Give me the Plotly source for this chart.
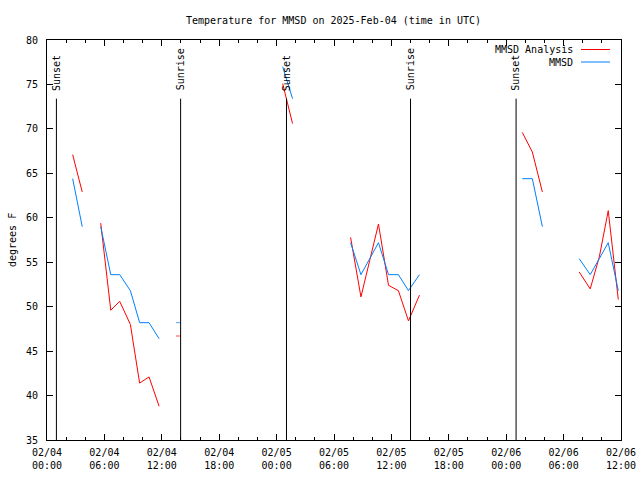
import plotly.graph_objects as go

# ---- data -------------------------------------------------------------
times = [
    "2025-02-04 02:41", "2025-02-04 03:41", "2025-02-04 04:40",
    "2025-02-04 05:37", "2025-02-04 06:40", "2025-02-04 07:36", "2025-02-04 08:43",
    "2025-02-04 09:41", "2025-02-04 10:40", "2025-02-04 11:43", "2025-02-04 12:40",
    "2025-02-04 13:42", "2025-02-04 20:00",
    "2025-02-05 00:38", "2025-02-05 01:40", "2025-02-05 04:00",
    "2025-02-05 07:44", "2025-02-05 08:49", "2025-02-05 09:44", "2025-02-05 10:39",
    "2025-02-05 11:42", "2025-02-05 12:44", "2025-02-05 13:47", "2025-02-05 14:56",
    "2025-02-05 20:00",
    "2025-02-06 01:41", "2025-02-06 02:44", "2025-02-06 03:47", "2025-02-06 05:00",
    "2025-02-06 07:38", "2025-02-06 08:47", "2025-02-06 09:44", "2025-02-06 10:40",
    "2025-02-06 11:43",
]
analysis = [
    67.1, 62.9, None,
    59.4, 49.6, 50.6, 48.0, 41.4, 42.1, 38.8, None,
    46.7, None,
    75.1, 70.6, None,
    57.8, 51.1, 55.2, 59.3, 52.4, 51.8, 48.4, 51.3, None,
    69.6, 67.4, 62.9, None,
    53.9, 52.0, 55.6, 60.8, 50.8,
]
observed = [
    64.4, 59.0, None,
    59.0, 53.6, 53.6, 51.8, 48.2, 48.2, 46.4, None,
    48.2, None,
    77.0, 73.4, None,
    57.2, 53.6, 55.4, 57.2, 53.6, 53.6, 51.8, 53.6, None,
    64.4, 64.4, 59.0, None,
    55.4, 53.6, 55.4, 57.2, 51.8,
]
sun_times = ["2025-02-04 00:59", "2025-02-04 13:58", "2025-02-05 01:02",
             "2025-02-05 14:00", "2025-02-06 01:02"]
sun_labels = ["Sunset", "Sunrise", "Sunset", "Sunrise", "Sunset"]

tick_vals = ["2025-02-04 00:00", "2025-02-04 06:00", "2025-02-04 12:00", "2025-02-04 18:00",
             "2025-02-05 00:00", "2025-02-05 06:00", "2025-02-05 12:00", "2025-02-05 18:00",
             "2025-02-06 00:00", "2025-02-06 06:00", "2025-02-06 12:00"]
tick_text = ["02/04<br>00:00", "02/04<br>06:00", "02/04<br>12:00", "02/04<br>18:00",
             "02/05<br>00:00", "02/05<br>06:00", "02/05<br>12:00", "02/05<br>18:00",
             "02/06<br>00:00", "02/06<br>06:00", "02/06<br>12:00"]
series_names = ["MMSD Analysis", "MMSD"]
series_colors = ["#ff0000", "#0080ff"]

FONT = "DejaVu Sans Mono"
W, H = 640, 480
L, R, T, B = 47, 19, 40, 40


def isolated(vals):
    out = []
    for i, v in enumerate(vals):
        prev = vals[i - 1] if i > 0 else None
        nxt = vals[i + 1] if i < len(vals) - 1 else None
        out.append(3 if (v is not None and prev is None and nxt is None) else 0)
    return out


fig = go.Figure()
for name, vals, col in zip(series_names, [analysis, observed], series_colors):
    fig.add_trace(go.Scatter(
        x=times, y=vals, name=name, mode="lines+markers",
        line=dict(color=col, width=1), connectgaps=False,
        marker=dict(symbol="line-ew", size=isolated(vals),
                    line=dict(color=col, width=1), color=col),
        showlegend=False,
    ))

shapes = []
annotations = []
line_top = 73.4
for t, lab in zip(sun_times, sun_labels):
    shapes.append(dict(type="line", xref="x", yref="y", x0=t, x1=t, y0=35, y1=line_top,
                       line=dict(color="black", width=1)))
    annotations.append(dict(x=t, y=line_top, xref="x", yref="y", text=lab, textangle=-90,
                            showarrow=False, xanchor="center", yanchor="bottom", yshift=6,
                            font=dict(family=FONT, size=10, color="black")))

# manual legend (text, then line sample to the right)
pw, ph = W - L - R, H - T - B
def px(xp):
    return (xp - L) / pw
def py(yp):
    return (H - B - yp) / ph

for i, (name, col) in enumerate(zip(series_names, series_colors)):
    yy = 49.5 + 12.5 * i
    annotations.append(dict(x=px(575), y=py(yy), xref="paper", yref="paper", text=name,
                            showarrow=False, xanchor="right", yanchor="middle",
                            font=dict(family=FONT, size=10, color="black")))
    shapes.append(dict(type="line", xref="paper", yref="paper", x0=px(581), x1=px(610),
                       y0=py(yy), y1=py(yy), line=dict(color=col, width=1)))

annotations.append(dict(x=px(12), y=0.5, xref="paper", yref="paper", text="degrees F",
                        textangle=-90, showarrow=False, xanchor="center", yanchor="middle",
                        font=dict(family=FONT, size=10, color="black")))
annotations.append(dict(x=px(333), y=py(20.5), xref="paper", yref="paper",
                        text="Temperature for MMSD on 2025-Feb-04 (time in UTC)",
                        showarrow=False, xanchor="center", yanchor="middle",
                        font=dict(family=FONT, size=10, color="black")))

fig.update_layout(
    width=W, height=H, margin=dict(l=L, r=R, t=T, b=B, pad=0, autoexpand=False),
    paper_bgcolor="white", plot_bgcolor="white",
    font=dict(family=FONT, size=10, color="black"),
    shapes=shapes, annotations=annotations, showlegend=False,
    xaxis=dict(type="date", range=["2025-02-04 00:00", "2025-02-06 12:00"],
               tickvals=tick_vals, ticktext=tick_text, ticks="inside", ticklen=6,
               tickcolor="black", showline=True, linecolor="black", linewidth=1,
               mirror="ticks", showgrid=False, zeroline=False, automargin=False,
               ticklabelstandoff=3,
               minor=dict(dtick=2 * 3600 * 1000, ticks="inside", ticklen=3,
                          tickcolor="black", showgrid=False),
               tickfont=dict(family=FONT, size=10)),
    yaxis=dict(range=[35, 80], dtick=5, tick0=35, ticks="inside", ticklen=6,
               tickcolor="black", showline=True, linecolor="black", linewidth=1,
               mirror="ticks", showgrid=False, zeroline=False, automargin=False,
               ticklabelstandoff=6,
               tickfont=dict(family=FONT, size=10)),
)

fig.write_html("out.html", config={"displayModeBar": False},
               post_script="document.body.style.margin='0';")
